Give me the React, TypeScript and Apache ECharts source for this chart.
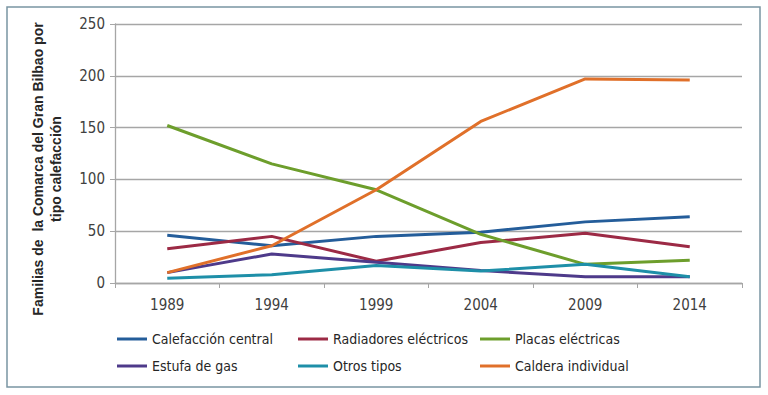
import React, { useEffect, useRef } from "react";
import * as echarts from "echarts";

const years = ["1989", "1994", "1999", "2004", "2009", "2014"];
const seriesNames = [
  "Calefacción central",
  "Radiadores eléctricos",
  "Placas eléctricas",
  "Estufa de gas",
  "Otros tipos",
  "Caldera individual",
];
const calefaccionCentral = [46, 36, 45, 49, 59, 64];
const radiadoresElectricos = [33, 45, 21, 39, 48, 35];
const placasElectricas = [152, 115, 90, 47, 18, 22];
const estufaDeGas = [10, 28, 20, 12, 6, 6];
const otrosTipos = [4.5, 8, 17, 11.5, 18, 6];
const calderaIndividual = [10, 36, 90, 156, 197, 196];
const yTicks = [0, 50, 100, 150, 200, 250];

const colors = ["#245d9a", "#9c2a45", "#6d9e2c", "#4e3a8a", "#1e8fa8", "#e0702a"];
const FONT = "'Liberation Sans Narrow', 'DejaVu Sans Condensed', 'Liberation Sans', sans-serif";

export default function App() {
  const ref = useRef<HTMLDivElement>(null);
  useEffect(() => {
    if (!ref.current) return;
    const chart = echarts.init(ref.current, null, { renderer: "svg" });
    const values = [
      calefaccionCentral,
      radiadoresElectricos,
      placasElectricas,
      estufaDeGas,
      otrosTipos,
      calderaIndividual,
    ];
    const legendPos = [
      [117, 332],
      [298, 332],
      [480, 332],
      [117, 359],
      [298, 359],
      [480, 359],
    ];
    chart.setOption({
      animation: false,
      color: colors,
      grid: { left: 115, right: 26, top: 24, bottom: 112, containLabel: false },
      xAxis: {
        type: "category",
        data: years,
        boundaryGap: true,
        axisLine: { show: true, lineStyle: { color: "#a6a6a6", width: 1.3 } },
        axisTick: { show: true, length: 5, alignWithLabel: false, lineStyle: { color: "#a6a6a6" } },
        axisLabel: { margin: 14, color: "#404040", fontSize: 15, fontFamily: FONT },
        splitLine: { show: false },
      },
      yAxis: {
        type: "value",
        min: yTicks[0],
        max: yTicks[yTicks.length - 1],
        interval: 50,
        axisLine: { show: true, lineStyle: { color: "#a6a6a6", width: 1.3 } },
        axisTick: { show: true, length: 5, lineStyle: { color: "#a6a6a6" } },
        axisLabel: { margin: 10, color: "#404040", fontSize: 15, fontFamily: FONT },
        splitLine: { show: true, lineStyle: { color: "#a6a6a6", width: 1.3 } },
      },
      legend: seriesNames.map((n, i) => ({
        data: [n],
        left: legendPos[i][0],
        top: legendPos[i][1],
        padding: 0,
        icon: "rect",
        itemWidth: 30,
        itemHeight: 3,
        textStyle: { color: "#262626", fontSize: 14, fontFamily: FONT },
      })),
      graphic: [
        {
          type: "rect",
          shape: { x: 7, y: 7, width: 753, height: 380 },
          style: { fill: "none", stroke: "#7a95a3", lineWidth: 1.5 },
        },
        {
          type: "text",
          x: 38,
          y: 169,
          rotation: Math.PI / 2,
          style: {
            text: "Familias de  la Comarca del Gran Bilbao por",
            align: "center",
            verticalAlign: "middle",
            font: "bold 14px 'Liberation Sans', sans-serif",
            fill: "#262626",
          },
        },
        {
          type: "text",
          x: 56,
          y: 169,
          rotation: Math.PI / 2,
          style: {
            text: "tipo calefacción",
            align: "center",
            verticalAlign: "middle",
            font: "bold 14px 'Liberation Sans', sans-serif",
            fill: "#262626",
          },
        },
      ],
      series: seriesNames.map((n, i) => ({
        name: n,
        type: "line",
        data: values[i],
        showSymbol: false,
        symbol: "none",
        lineStyle: { width: 3, color: colors[i] },
        itemStyle: { color: colors[i] },
      })),
    });
    return () => chart.dispose();
  }, []);
  return (
    <div
      ref={ref}
      style={{ position: "fixed", left: 0, top: 0, width: 768, height: 395, background: "#fff" }}
    />
  );
}
